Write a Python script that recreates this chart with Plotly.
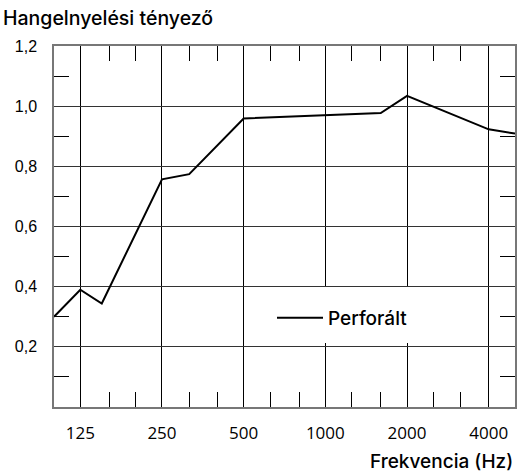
import plotly.graph_objects as go

freq = [100, 125, 150, 250, 315, 500, 1600, 2000, 4000, 5000]
alpha = [0.30, 0.39, 0.344, 0.757, 0.774, 0.959, 0.977, 1.034, 0.923, 0.909]
series_name = "Perforált"

x_tickvals = [125, 250, 500, 1000, 2000, 4000]
x_ticktext = ["125", "250", "500", "1000", "2000", "4000"]
x_minor = [160, 200, 315, 400, 630, 800, 1250, 1600, 2500, 3150]
y_tickvals = [0.2, 0.4, 0.6, 0.8, 1.0, 1.2]
y_ticktext = ["0,2", "0,4", "0,6", "0,8", "1,0", "1,2"]
y_minor = [0.1, 0.3, 0.5, 0.7, 0.9, 1.1]

fig = go.Figure()
fig.add_trace(go.Scatter(x=freq, y=alpha, mode="lines", name=series_name,
                         line=dict(color="black", width=2)))

fig.update_layout(
    width=530, height=473,
    margin=dict(l=54, r=15, t=46, b=66),
    paper_bgcolor="white", plot_bgcolor="white",
    showlegend=True,
    legend=dict(x=(272 - 54) / 461, y=(407 - 318) / 361, xanchor="left", yanchor="middle",
                bgcolor="rgba(255,255,255,0)", borderwidth=0, itemwidth=46,
                font=dict(family="Inter", size=19, color="black", weight=500)),
    title=dict(text="Hangelnyelési tényező", x=3/530, xanchor="left",
               y=1 - 18/473, yanchor="middle",
               font=dict(family="Inter", size=19.5, color="black", weight=500)),
    annotations=[dict(text="Frekvencia (Hz)", xref="paper", yref="paper",
                      x=1, y=-0.1496, xanchor="right", yanchor="middle",
                      showarrow=False,
                      font=dict(family="Inter", size=19, color="black", weight=500))],
    shapes=[dict(type="rect", xref="paper", yref="paper", layer="above",
                 x0=(250 - 54) / 461, x1=(440 - 54) / 461,
                 y0=(407 - 343) / 361, y1=(407 - 287) / 361,
                 fillcolor="white", line=dict(width=0))],
)
fig.update_xaxes(type="log", range=[2, 3.69897],
                 tickvals=x_tickvals, ticktext=x_ticktext,
                 showgrid=True, gridcolor="black", gridwidth=1,
                 showline=True, linecolor="#777", linewidth=1.5, mirror="ticks",
                 ticks="", ticklabelstandoff=10,
                 tickfont=dict(family="Open Sans", size=17, color="black"),
                 minor=dict(tickvals=x_minor, ticks="inside", ticklen=15,
                            tickcolor="black", tickwidth=1, showgrid=False),
                 zeroline=False)
fig.update_yaxes(range=[0, 1.2], tickvals=y_tickvals, ticktext=y_ticktext,
                 showgrid=True, gridcolor="#333", gridwidth=1,
                 showline=True, linecolor="#777", linewidth=1.5, mirror="ticks",
                 ticks="", ticklabelstandoff=12,
                 tickfont=dict(family="Liberation Sans", size=16, color="black"),
                 minor=dict(tickvals=y_minor, ticks="inside", ticklen=15,
                            tickcolor="black", tickwidth=1, showgrid=False),
                 zeroline=False)

fig.write_html("out.html", config={"displayModeBar": False},
               post_script="document.body.style.margin='0px';")
